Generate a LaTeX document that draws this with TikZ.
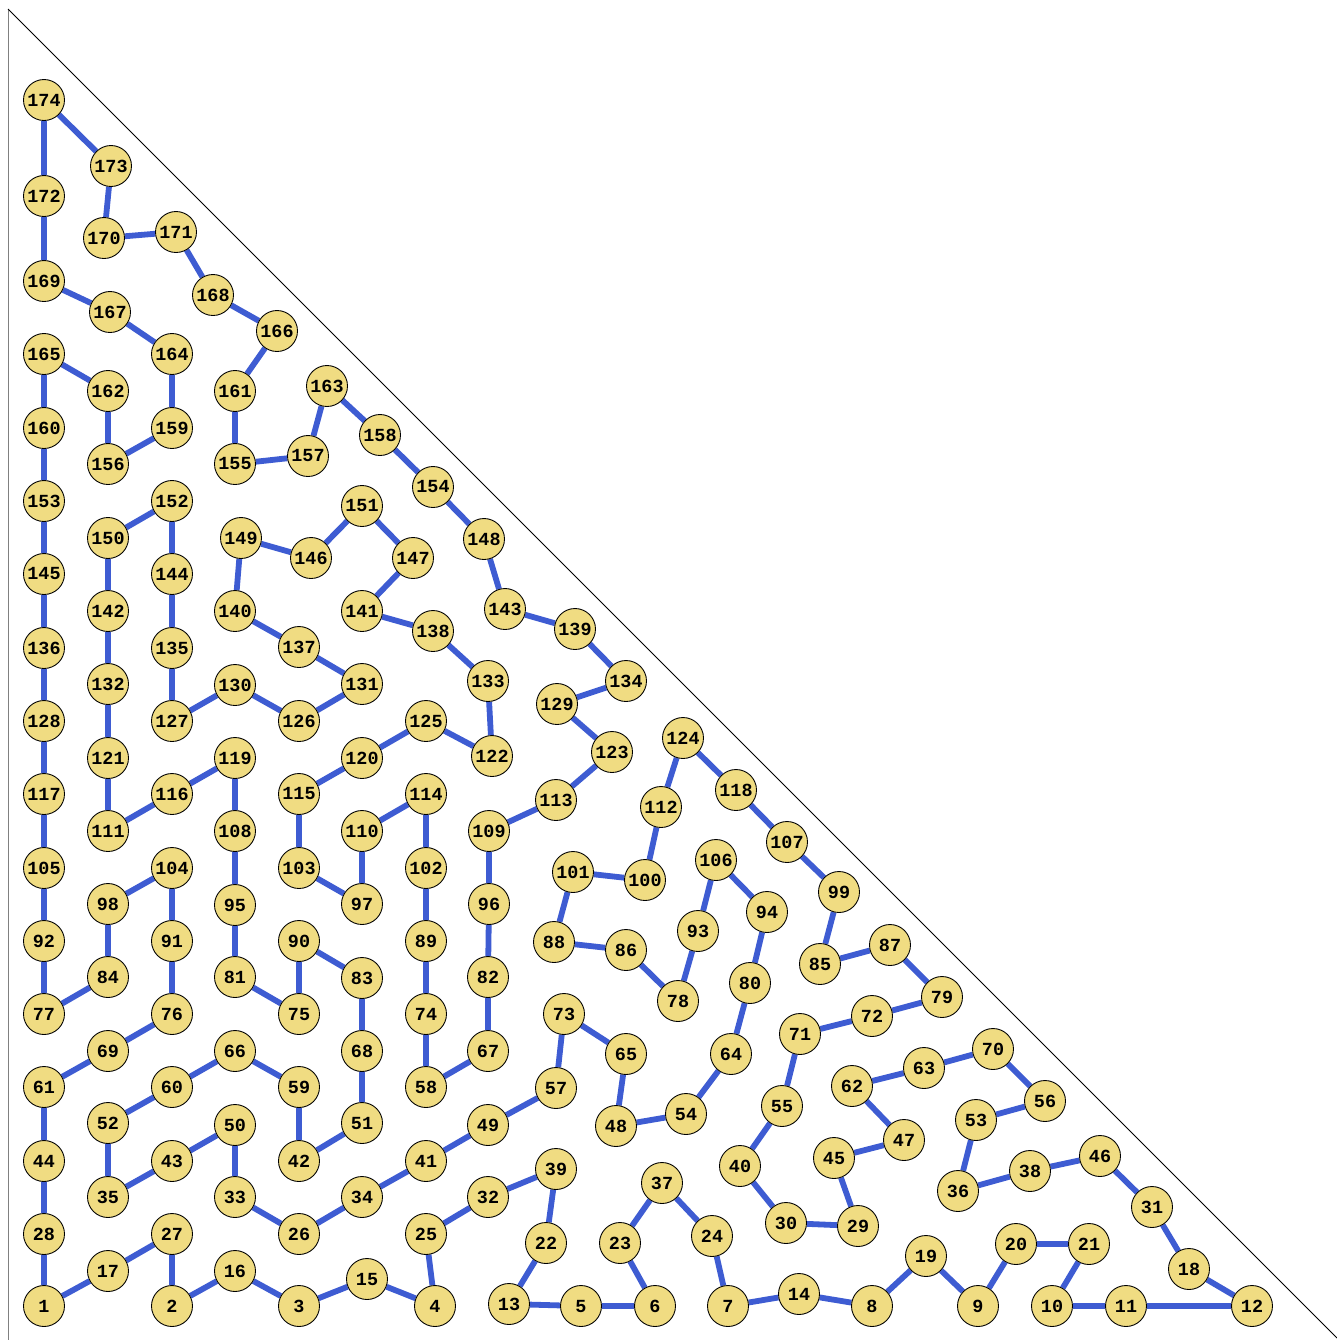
\documentclass[tikz,border=0pt]{standalone}
\usepackage{fontspec}
\setmonofont{Liberation Mono}
\usetikzlibrary{backgrounds}
\definecolor{nodefill}{RGB}{240,220,130}
\definecolor{edgeblue}{RGB}{62,92,210}
\begin{document}
\begin{tikzpicture}[x=0.02cm,y=-0.02cm,
  vtx/.style={circle, draw=black, line width=0.5pt, fill=nodefill, minimum size=0.82cm, inner sep=0pt, font=\ttfamily\bfseries\fontsize{10.5}{10.5}\selectfont},
  edge/.style={line width=3.3pt, draw=edgeblue},
  frame/.style={line width=0.5pt}]
\useasboundingbox (0,0) rectangle (1337,1340);
\draw[frame, draw=gray] (8,9) coordinate (tl) -- (8,1340) coordinate (bl);
\draw[frame, draw=black] (tl) -- (1337,1338) coordinate (br);
\foreach \n/\x/\y in {
1/44/1305, 2/172/1305, 3/299/1305, 4/435/1305, 5/581/1305, 6/655/1305, 7/728/1305, 8/872/1305, 9/978/1305, 10/1052/1305,
11/1126/1305, 12/1252/1305, 13/509/1303, 14/799/1293, 15/367/1278, 16/235/1270, 17/108/1270, 18/1189/1268, 19/926/1255, 20/1016/1243,
21/1089/1243, 22/546/1242, 23/620/1242, 24/712/1235, 25/426/1233, 26/299/1233, 27/172/1233, 28/44/1233, 29/858/1225, 30/786/1222,
31/1152/1206, 32/488/1196, 33/235/1196, 34/362/1196, 35/108/1196, 36/958/1190, 37/662/1182, 38/1030/1170, 39/556/1168, 40/740/1165,
41/426/1160, 42/299/1160, 43/172/1160, 44/44/1160, 45/834/1157, 46/1100/1155, 47/904/1139, 48/616/1125, 49/488/1124, 50/235/1124,
51/362/1122, 52/108/1122, 53/976/1119, 54/686/1113, 55/782/1105, 56/1045/1100, 57/556/1087, 58/426/1086, 59/299/1086, 60/172/1086,
61/44/1086, 62/852/1085, 63/924/1067, 64/731/1053, 65/626/1053, 66/235/1050, 67/488/1050, 68/362/1050, 69/108/1050, 70/993/1048,
71/800/1033, 72/872/1015, 73/564/1013, 74/426/1013, 75/299/1013, 76/172/1013, 77/44/1013, 78/678/1000, 79/942/996, 80/750/982,
81/235/976, 82/488/976, 83/362/977, 84/108/976, 85/820/963, 86/626/949, 87/890/944, 88/554/941, 89/426/940, 90/299/940,
91/172/940, 92/44/940, 93/698/930, 94/767/911, 95/235/904, 96/489/903, 97/362/903, 98/108/903, 99/839/891, 100/645/879,
101/573/871, 102/426/867, 103/299/867, 104/172/867, 105/44/867, 106/716/859, 107/787/841, 108/235/830, 109/489/830, 110/362/830,
111/108/830, 112/661/806, 113/556/799, 114/426/793, 115/299/793, 116/172/793, 117/44/793, 118/736/789, 119/235/757, 120/362/757,
121/108/757, 122/492/755, 123/612/751, 124/683/737, 125/426/720, 126/299/720, 127/172/720, 128/44/720, 129/557/703, 130/235/684,
131/362/683, 132/108/683, 133/488/680, 134/626/680, 135/172/647, 136/44/647, 137/299/646, 138/433/630, 139/575/628, 140/235/610,
141/362/610, 142/108/610, 143/505/608, 144/172/573, 145/44/573, 146/311/557, 147/413/557, 148/484/538, 149/241/537, 150/108/537,
151/362/505, 152/172/500, 153/44/500, 154/433/486, 155/235/463, 156/108/463, 157/308/455, 158/380/434, 159/172/427, 160/44/427,
161/235/390, 162/108/390, 163/327/385, 164/172/353, 165/44/353, 166/277/330, 167/110/311, 168/213/294, 169/44/280, 170/104/237,
171/176/231, 172/44/195, 173/111/165, 174/44/99}
  \node[vtx] (n\n) at (\x,\y+1) {\n};
\begin{scope}[on background layer]
\foreach \a/\b in {
1/17, 1/28, 17/27, 27/2, 2/16, 16/3, 3/15, 15/4, 4/25, 25/32, 32/39, 39/22, 22/13, 13/5, 5/6, 6/23, 23/37, 37/24, 24/7, 7/14,
14/8, 8/19, 19/9, 9/20, 20/21, 21/10, 10/11, 11/12, 12/18, 18/31, 31/46, 46/38, 38/36, 36/53, 53/56, 56/70, 70/63, 63/62, 62/47, 47/45,
45/29, 29/30, 30/40, 40/55, 55/71, 71/72, 72/79, 79/87, 87/85, 85/99, 99/107, 107/118, 118/124, 124/112, 112/100, 100/101, 101/88, 88/86, 86/78, 78/93,
93/106, 106/94, 94/80, 80/64, 64/54, 54/48, 48/65, 65/73, 73/57, 57/49, 49/41, 41/34, 34/26, 26/33, 33/50, 50/43, 43/35, 35/52, 52/60, 60/66,
66/59, 59/42, 42/51, 51/68, 68/83, 83/90, 90/75, 75/81, 81/95, 95/108, 108/119, 119/116, 116/111, 111/121, 121/132, 132/142, 142/150, 150/152, 152/144, 144/135,
135/127, 127/130, 130/126, 126/131, 131/137, 137/140, 140/149, 149/146, 146/151, 151/147, 147/141, 141/138, 138/133, 133/122, 122/125, 125/120, 120/115, 115/103, 103/97, 97/110,
110/114, 114/102, 102/89, 89/74, 74/58, 58/67, 67/82, 82/96, 96/109, 109/113, 113/123, 123/129, 129/134, 134/139, 139/143, 143/148, 148/154, 154/158, 158/163, 163/157,
157/155, 155/161, 161/166, 166/168, 168/171, 171/170, 170/173, 173/174, 174/172, 172/169, 169/167, 167/164, 164/159, 159/156, 156/162, 162/165, 165/160, 160/153, 153/145, 145/136,
136/128, 128/117, 117/105, 105/92, 92/77, 77/84, 84/98, 98/104, 104/91, 91/76, 76/69, 69/61, 61/44, 44/28}
  \draw[edge] (n\a) -- (n\b);
\end{scope}
\end{tikzpicture}
\end{document}
